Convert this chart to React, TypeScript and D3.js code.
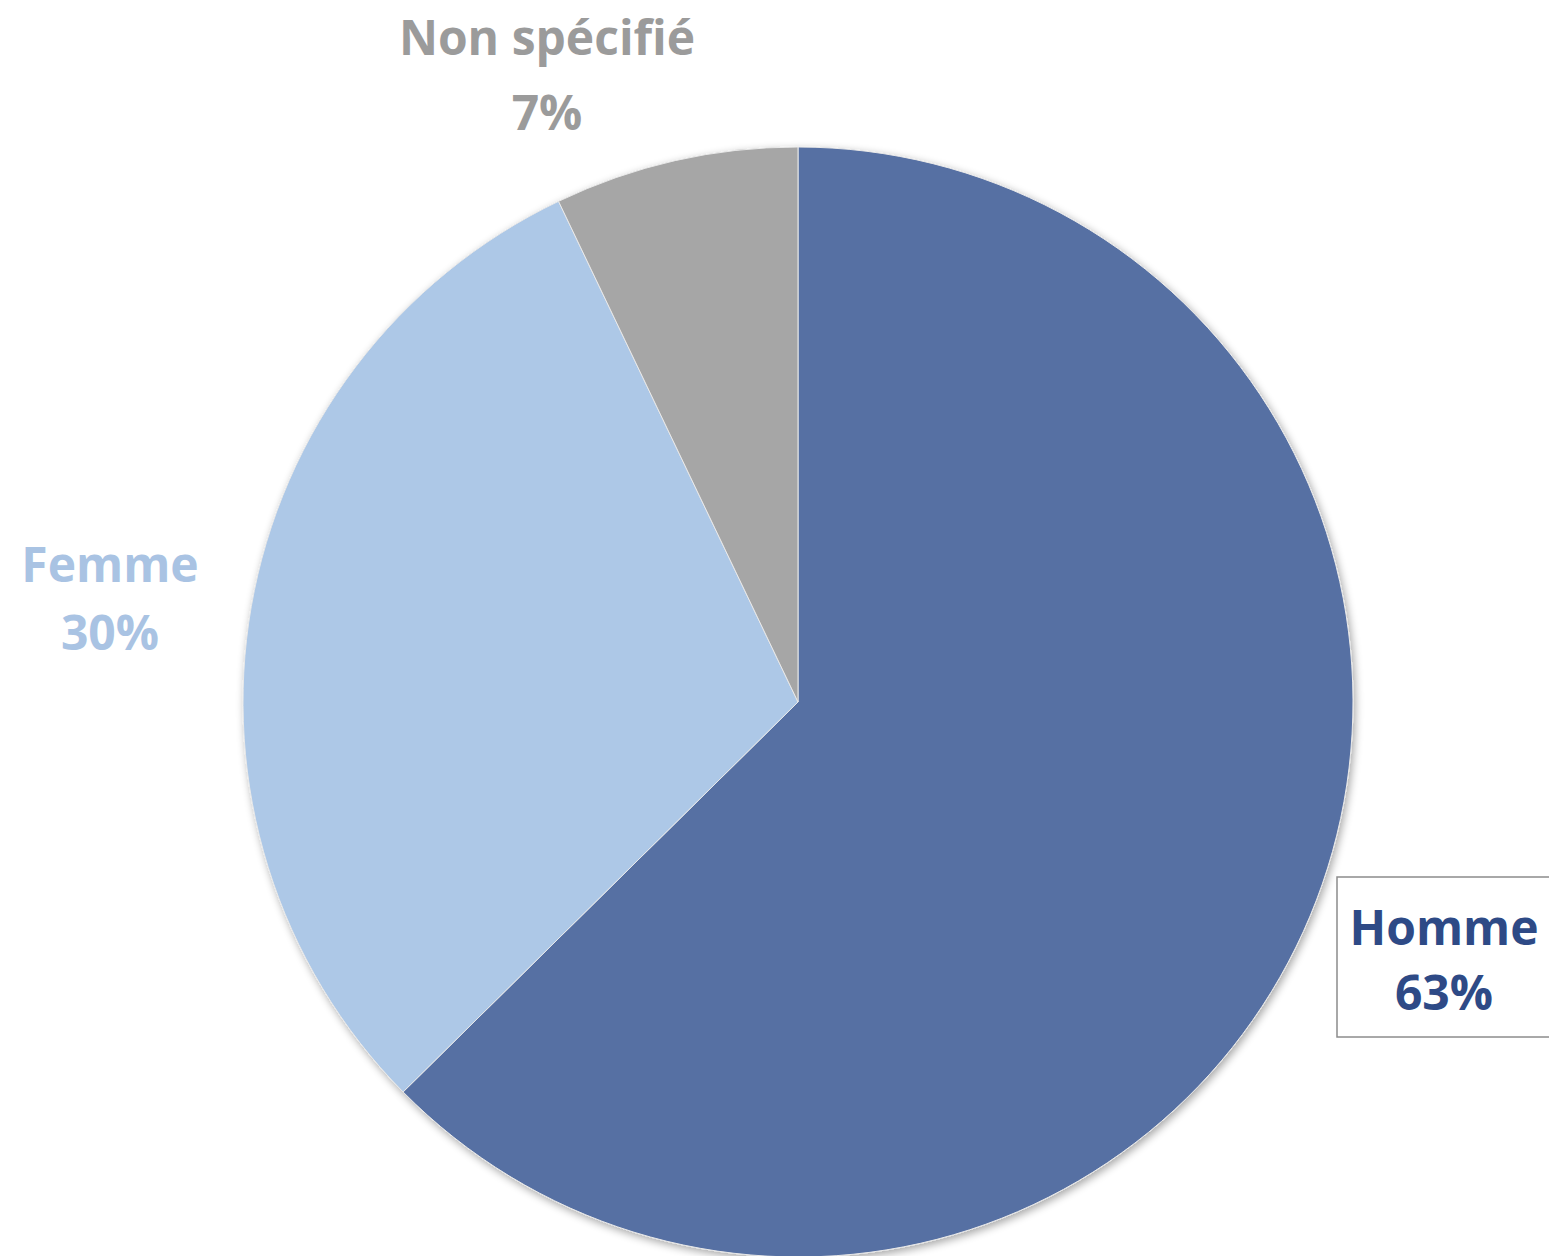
import React, { useEffect } from "react";
import * as d3 from "d3";

const categories = ["Homme", "Femme", "Non spécifié"];
const values = [62.6, 30.3, 7.1];
const sliceColors = ["#5670A3", "#ADC8E7", "#A6A6A6"];
const labelColors = ["#2E4A86", "#A9C3E3", "#9B9B9B"];
const percentLabels = ["63%", "30%", "7%"];

const W = 1549;
const H = 1256;
const CX = 798;
const CY = 702;
const R = 555;

export default function App() {
  useEffect(() => {
    document.body.style.margin = "0";
  }, []);

  const pie = d3.pie<number>().sort(null).value((d) => d);
  const arcs = pie(values);
  const arcGen = d3.arc<d3.PieArcDatum<number>>().innerRadius(0).outerRadius(R);

  const labelPos = [
    { x: 1444, y1: 945, y2: 1010 },
    { x: 110, y1: 582, y2: 650 },
    { x: 547, y1: 55, y2: 130 },
  ];

  return (
    <svg
      width={W}
      height={H}
      viewBox={`0 0 ${W} ${H}`}
      style={{ position: "absolute", left: 0, top: 0, background: "#ffffff" }}
    >
      <defs>
        <filter id="shadow" x="-10%" y="-10%" width="120%" height="120%">
          <feGaussianBlur in="SourceAlpha" stdDeviation="4" />
          <feOffset dx="2" dy="3" result="ob" />
          <feComponentTransfer>
            <feFuncA type="linear" slope="0.35" />
          </feComponentTransfer>
          <feMerge>
            <feMergeNode />
            <feMergeNode in="SourceGraphic" />
          </feMerge>
        </filter>
      </defs>
      <rect x={0} y={0} width={W} height={H} fill="#ffffff" />
      <g transform={`translate(${CX},${CY})`} filter="url(#shadow)">
        {arcs.map((a, i) => (
          <path
            key={categories[i]}
            d={arcGen(a) || ""}
            fill={sliceColors[i]}
            stroke="#e8e8e8"
            strokeWidth={1}
          />
        ))}
      </g>
      <rect
        x={1337}
        y={877}
        width={240}
        height={160}
        fill="#ffffff"
        stroke="#8c8c8c"
        strokeWidth={1.5}
      />
      {categories.map((c, i) => (
        <g key={c} fontFamily="'Open Sans', sans-serif" fontWeight={700} fontSize={48} fill={labelColors[i]} textAnchor="middle">
          <text x={labelPos[i].x} y={labelPos[i].y1}>{c}</text>
          <text x={labelPos[i].x} y={labelPos[i].y2}>{percentLabels[i]}</text>
        </g>
      ))}
    </svg>
  );
}
